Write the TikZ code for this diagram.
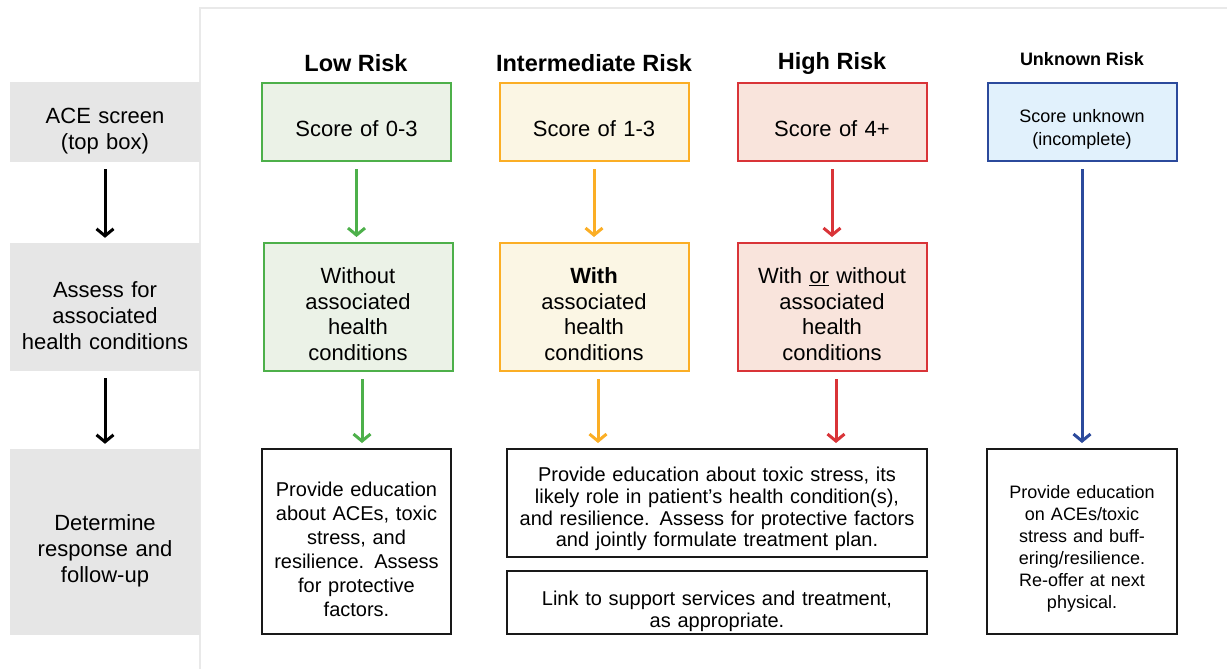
\documentclass[tikz,border=0pt]{standalone}
\usepackage{fontspec}
\setmainfont{Liberation Sans}
\usetikzlibrary{arrows.meta}
\definecolor{lblgray}{HTML}{E6E6E6}
\definecolor{panelgray}{HTML}{E9E9E9}
\definecolor{lowgreen}{HTML}{4DB04A}
\definecolor{lowfill}{HTML}{EBF2E7}
\definecolor{midorange}{HTML}{FBAE25}
\definecolor{midfill}{HTML}{FBF6E4}
\definecolor{highred}{HTML}{D93438}
\definecolor{highfill}{HTML}{F9E4DC}
\definecolor{unkblue}{HTML}{2B4A9C}
\definecolor{unkfill}{HTML}{E1F1FC}
\begin{document}
\begin{tikzpicture}[x=1pt, y=-1pt,
    rowlbl/.style={fill=lblgray, minimum width=190pt, text width=182pt, align=center, inner sep=0pt,
      font=\fontsize{22}{26}\selectfont, execute at begin node={\vskip7pt}},
    riskbox/.style={draw, line width=2pt, minimum width=189pt, text width=178pt, align=center, inner sep=0pt,
      font=\fontsize{22}{25.5}\selectfont, execute at begin node={\vskip4.5pt}},
    respbox/.style={draw=black!90, line width=2pt, align=center, inner sep=0pt,
      font=\fontsize{20}{24}\selectfont, execute at begin node={\vskip5pt}},
    hdr/.style={font=\bfseries\fontsize{23.5}{28}\selectfont},
    flow/.style={line width=3pt, -{Straight Barb[length=7pt,width=17pt]}, shorten <=7pt, shorten >=5pt}]
  \useasboundingbox (0,0) rectangle (1227,669);
  % white panel
  \draw[panelgray, line width=2pt] (200,669) -- (200,8) -- (1227,8);
  % row labels
  \node[rowlbl, minimum height=80pt] (ace) at (105,122) {ACE screen\\(top box)};
  \node[rowlbl, minimum height=128pt] (assess) at (105,307) {Assess for\\associated\\health conditions};
  \node[rowlbl, minimum height=186pt] (resp) at (105,542) {Determine\\response and\\follow-up};
  \draw[flow, black] (ace) -- (assess); \draw[flow, black] (assess) -- (resp);
  % headers
  \node[hdr] (hlow) at (356,63) {Low Risk}; \node[hdr] (hmid) at (594,63) {Intermediate Risk};
  \node[hdr] (hhigh) at (832,63) {High Risk};
  \node[font=\bfseries\fontsize{18}{22}\selectfont] (hunk) at (1082,59) {Unknown Risk};
  % top row
  \node[riskbox, draw=lowgreen, fill=lowfill, minimum height=78pt] (low1) at (356.5,122) {Score of 0-3};
  \node[riskbox, draw=midorange, fill=midfill, minimum height=78pt] (mid1) at (594,122) {Score of 1-3};
  \node[riskbox, draw=highred, fill=highfill, minimum height=78pt] (high1) at (832,122) {Score of 4+};
  \node[riskbox, draw=unkblue, fill=unkfill, minimum height=78pt, font=\fontsize{18}{23}\selectfont]
    (unk1) at (1082,122) {Score unknown\\(incomplete)};
  % middle row
  \node[riskbox, draw=lowgreen, fill=lowfill, minimum height=128pt] (low2) at (358,307)
    {Without\\associated\\health\\conditions};
  \node[riskbox, draw=midorange, fill=midfill, minimum height=128pt] (mid2) at (594,307)
    {\textbf{With}\\associated\\health\\conditions};
  \node[riskbox, draw=highred, fill=highfill, minimum height=128pt] (high2) at (832,307)
    {With \underline{or} without\\associated\\health\\conditions};
  % bottom row
  \node[respbox, minimum width=189pt, minimum height=185pt, text width=180pt,
    execute at begin node={\vskip2pt}] (low3) at (356.5,541.5)
    {Provide education\\about ACEs, toxic\\stress, and\\resilience. Assess\\for protective\\factors.};
  \node[respbox, minimum width=420pt, minimum height=108pt, text width=410pt, font=\fontsize{20}{21.7}\selectfont]
    (mid3) at (717,503)
    {Provide education about toxic stress, its\\likely role in patient’s health condition(s),\\and resilience. Assess for protective factors\\and jointly formulate treatment plan.};
  \node[respbox, minimum width=420pt, minimum height=63pt, text width=410pt, font=\fontsize{20}{22}\selectfont,
    execute at begin node={\vskip6pt}] (link) at (717,602.5)
    {Link to support services and treatment,\\as appropriate.};
  \node[respbox, minimum width=190pt, minimum height=185pt, text width=180pt, font=\fontsize{18}{22}\selectfont]
    (unk3) at (1082,541.5) {Provide education\\on ACEs/toxic\\stress and buff-\\ering/resilience.\\Re-offer at next\\physical.};
  % arrows
  \draw[flow, lowgreen] (low1) -- (low1.south |- low2.north);
  \draw[flow, midorange] (mid1) -- (mid2); \draw[flow, highred] (high1) -- (high2);
  \draw[flow, lowgreen] (low2.south) ++(4,0) coordinate (lowout) -- (lowout |- low3.north);
  \draw[flow, midorange] (mid2.south) ++(4,0) coordinate (midout) -- (midout |- mid3.north);
  \draw[flow, highred] (high2.south) ++(4,0) coordinate (highout) -- (highout |- mid3.north);
  \draw[flow, unkblue] (unk1) -- (unk3);
\end{tikzpicture}
\end{document}
